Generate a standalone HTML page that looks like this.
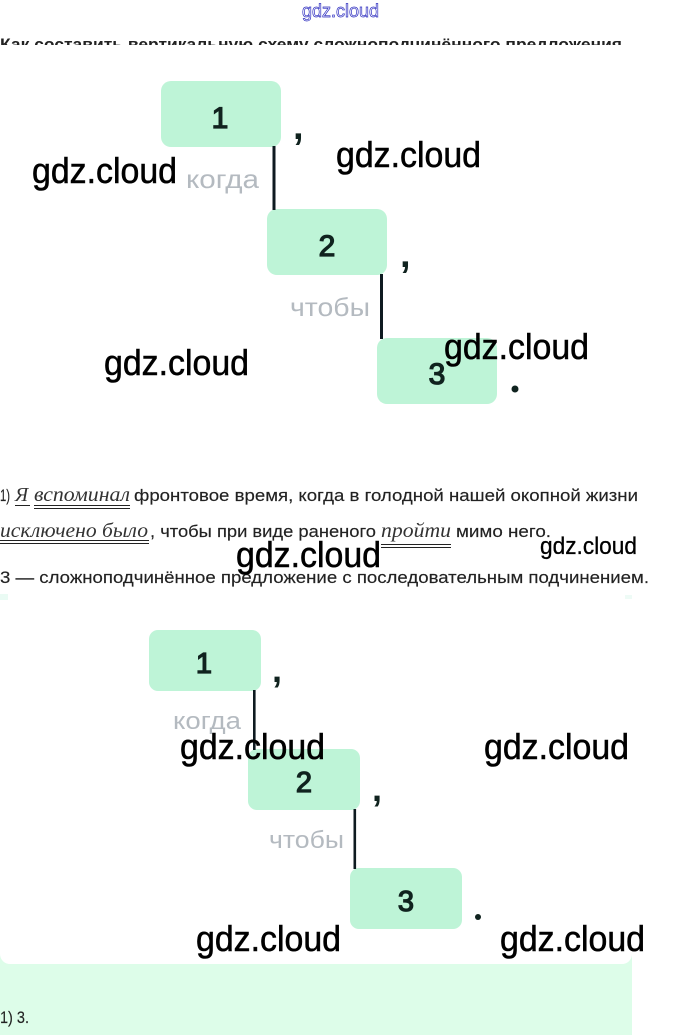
<!DOCTYPE html>
<html><head><meta charset="utf-8"><style>
html,body{margin:0;padding:0;background:#fff}
svg{display:block}
text{font-family:"Liberation Sans",sans-serif}
.w{font-size:36px;fill:#000;stroke:#000;stroke-width:.55}
.s{font-size:16.5px;fill:#222;stroke:#222;stroke-width:.15}
.i{font-family:"Liberation Serif",serif;font-style:italic;font-size:20px;fill:#333}
.g{fill:#b4bac0}
.n{fill:#10231f;stroke:#10231f;stroke-width:1.3;text-anchor:middle}
.l{stroke:#222;stroke-width:1;fill:none}
</style></head><body>
<svg width="680" height="1035" viewBox="0 0 680 1035" xmlns="http://www.w3.org/2000/svg">
<rect width="680" height="1035" fill="#fff"/>
<text x="302" y="17" font-size="18" fill="#fff" stroke="#3030c0" stroke-width=".7" textLength="77" lengthAdjust="spacingAndGlyphs">gdz.cloud</text>
<text x="0" y="50" font-size="16.5" font-weight="bold" fill="#222" textLength="622" lengthAdjust="spacingAndGlyphs">Как составить вертикальную схему сложноподчинённого предложения</text>
<rect x="0" y="45" width="680" height="20" fill="#fff"/>

<rect x="161" y="81" width="120" height="66" rx="10" fill="#bef4d7"/>
<rect x="267" y="209" width="120" height="66" rx="10" fill="#bef4d7"/>
<rect x="377" y="338" width="120" height="66" rx="10" fill="#bef4d7"/>
<rect x="272.500" y="146" width="3" height="64" fill="#0e1a20"/>
<rect x="380" y="274" width="3" height="65" fill="#0e1a20"/>
<text x="220" y="128" font-size="30" class="n">1</text>
<text x="327" y="256" font-size="30" class="n">2</text>
<text x="437" y="384" font-size="30" class="n">3</text>
<text x="293" y="139" font-size="38" font-weight="bold" fill="#10231f">,</text>
<text x="400" y="267" font-size="38" font-weight="bold" fill="#10231f">,</text>
<circle cx="515" cy="389" r="3.500" fill="#10231f"/>
<text x="186" y="188" font-size="26" class="g" textLength="73" lengthAdjust="spacingAndGlyphs">когда</text>
<text x="290" y="316" font-size="26" class="g" textLength="80" lengthAdjust="spacingAndGlyphs">чтобы</text>

<text x="0" y="501" class="s" textLength="10" lengthAdjust="spacingAndGlyphs">1)</text>
<text x="15" y="501" class="i">Я</text>
<text x="34" y="501" class="i" textLength="96" lengthAdjust="spacingAndGlyphs">вспоминал</text>
<text x="134" y="501" class="s" textLength="504" lengthAdjust="spacingAndGlyphs">фронтовое время, когда в голодной нашей окопной жизни</text>
<path class="l" d="M15 505.500H30M34 505.500H130M34 508.500H130"/>
<text x="0" y="537" class="i" textLength="148" lengthAdjust="spacingAndGlyphs">исключено было</text>
<text x="150" y="537" class="s" textLength="226" lengthAdjust="spacingAndGlyphs">, чтобы при виде раненого</text>
<text x="381" y="537" class="i" textLength="70" lengthAdjust="spacingAndGlyphs">пройти</text>
<text x="456" y="537" class="s" textLength="95" lengthAdjust="spacingAndGlyphs">мимо него.</text>
<path class="l" d="M0 540.500H149M0 543.500H149M381 544.500H451M381 547.500H451"/>
<text x="0" y="583" class="s" textLength="649" lengthAdjust="spacingAndGlyphs">3 — сложноподчинённое предложение с последовательным подчинением.</text>

<rect x="0" y="594" width="8" height="6" fill="#eafbf4"/>
<rect x="625" y="595" width="7" height="4" fill="#eefbf6"/>
<rect x="0" y="950" width="632" height="85" fill="#ddfde9"/>
<rect x="0" y="930" width="632" height="34" rx="10" fill="#fff"/>

<rect x="149" y="630" width="112" height="61" rx="9" fill="#bef4d7"/>
<rect x="248" y="749" width="112" height="61" rx="9" fill="#bef4d7"/>
<rect x="350" y="868" width="112" height="61" rx="9" fill="#bef4d7"/>
<rect x="253" y="690" width="2.600" height="60" fill="#0e1a20"/>
<rect x="353.500" y="809" width="2.600" height="60" fill="#0e1a20"/>
<text x="204" y="673" font-size="29" class="n">1</text>
<text x="304" y="792" font-size="29" class="n">2</text>
<text x="406" y="911" font-size="29" class="n">3</text>
<text x="272" y="682" font-size="36" font-weight="bold" fill="#10231f">,</text>
<text x="372" y="801" font-size="36" font-weight="bold" fill="#10231f">,</text>
<circle cx="478" cy="917" r="3" fill="#10231f"/>
<text x="173" y="729" font-size="24" class="g" textLength="68" lengthAdjust="spacingAndGlyphs">когда</text>
<text x="269" y="848" font-size="24" class="g" textLength="75" lengthAdjust="spacingAndGlyphs">чтобы</text>

<text x="0" y="1023" font-size="16.500" fill="#222" stroke="#222" stroke-width=".15" textLength="29" lengthAdjust="spacingAndGlyphs">1) 3.</text>

<text class="w" x="32" y="183" textLength="145" lengthAdjust="spacingAndGlyphs">gdz.cloud</text>
<text class="w" x="336" y="167" textLength="145" lengthAdjust="spacingAndGlyphs">gdz.cloud</text>
<text class="w" x="104" y="375" textLength="145" lengthAdjust="spacingAndGlyphs">gdz.cloud</text>
<text class="w" x="444" y="359" textLength="145" lengthAdjust="spacingAndGlyphs">gdz.cloud</text>
<text class="w" x="236" y="567" textLength="145" lengthAdjust="spacingAndGlyphs">gdz.cloud</text>
<text x="540" y="554" font-size="24" fill="#000" stroke="#000" stroke-width=".3" textLength="97" lengthAdjust="spacingAndGlyphs">gdz.cloud</text>
<text class="w" x="180" y="759" textLength="145" lengthAdjust="spacingAndGlyphs">gdz.cloud</text>
<text class="w" x="484" y="759" textLength="145" lengthAdjust="spacingAndGlyphs">gdz.cloud</text>
<text class="w" x="196" y="951" textLength="145" lengthAdjust="spacingAndGlyphs">gdz.cloud</text>
<text class="w" x="500" y="951" textLength="145" lengthAdjust="spacingAndGlyphs">gdz.cloud</text>
</svg>
</body></html>
